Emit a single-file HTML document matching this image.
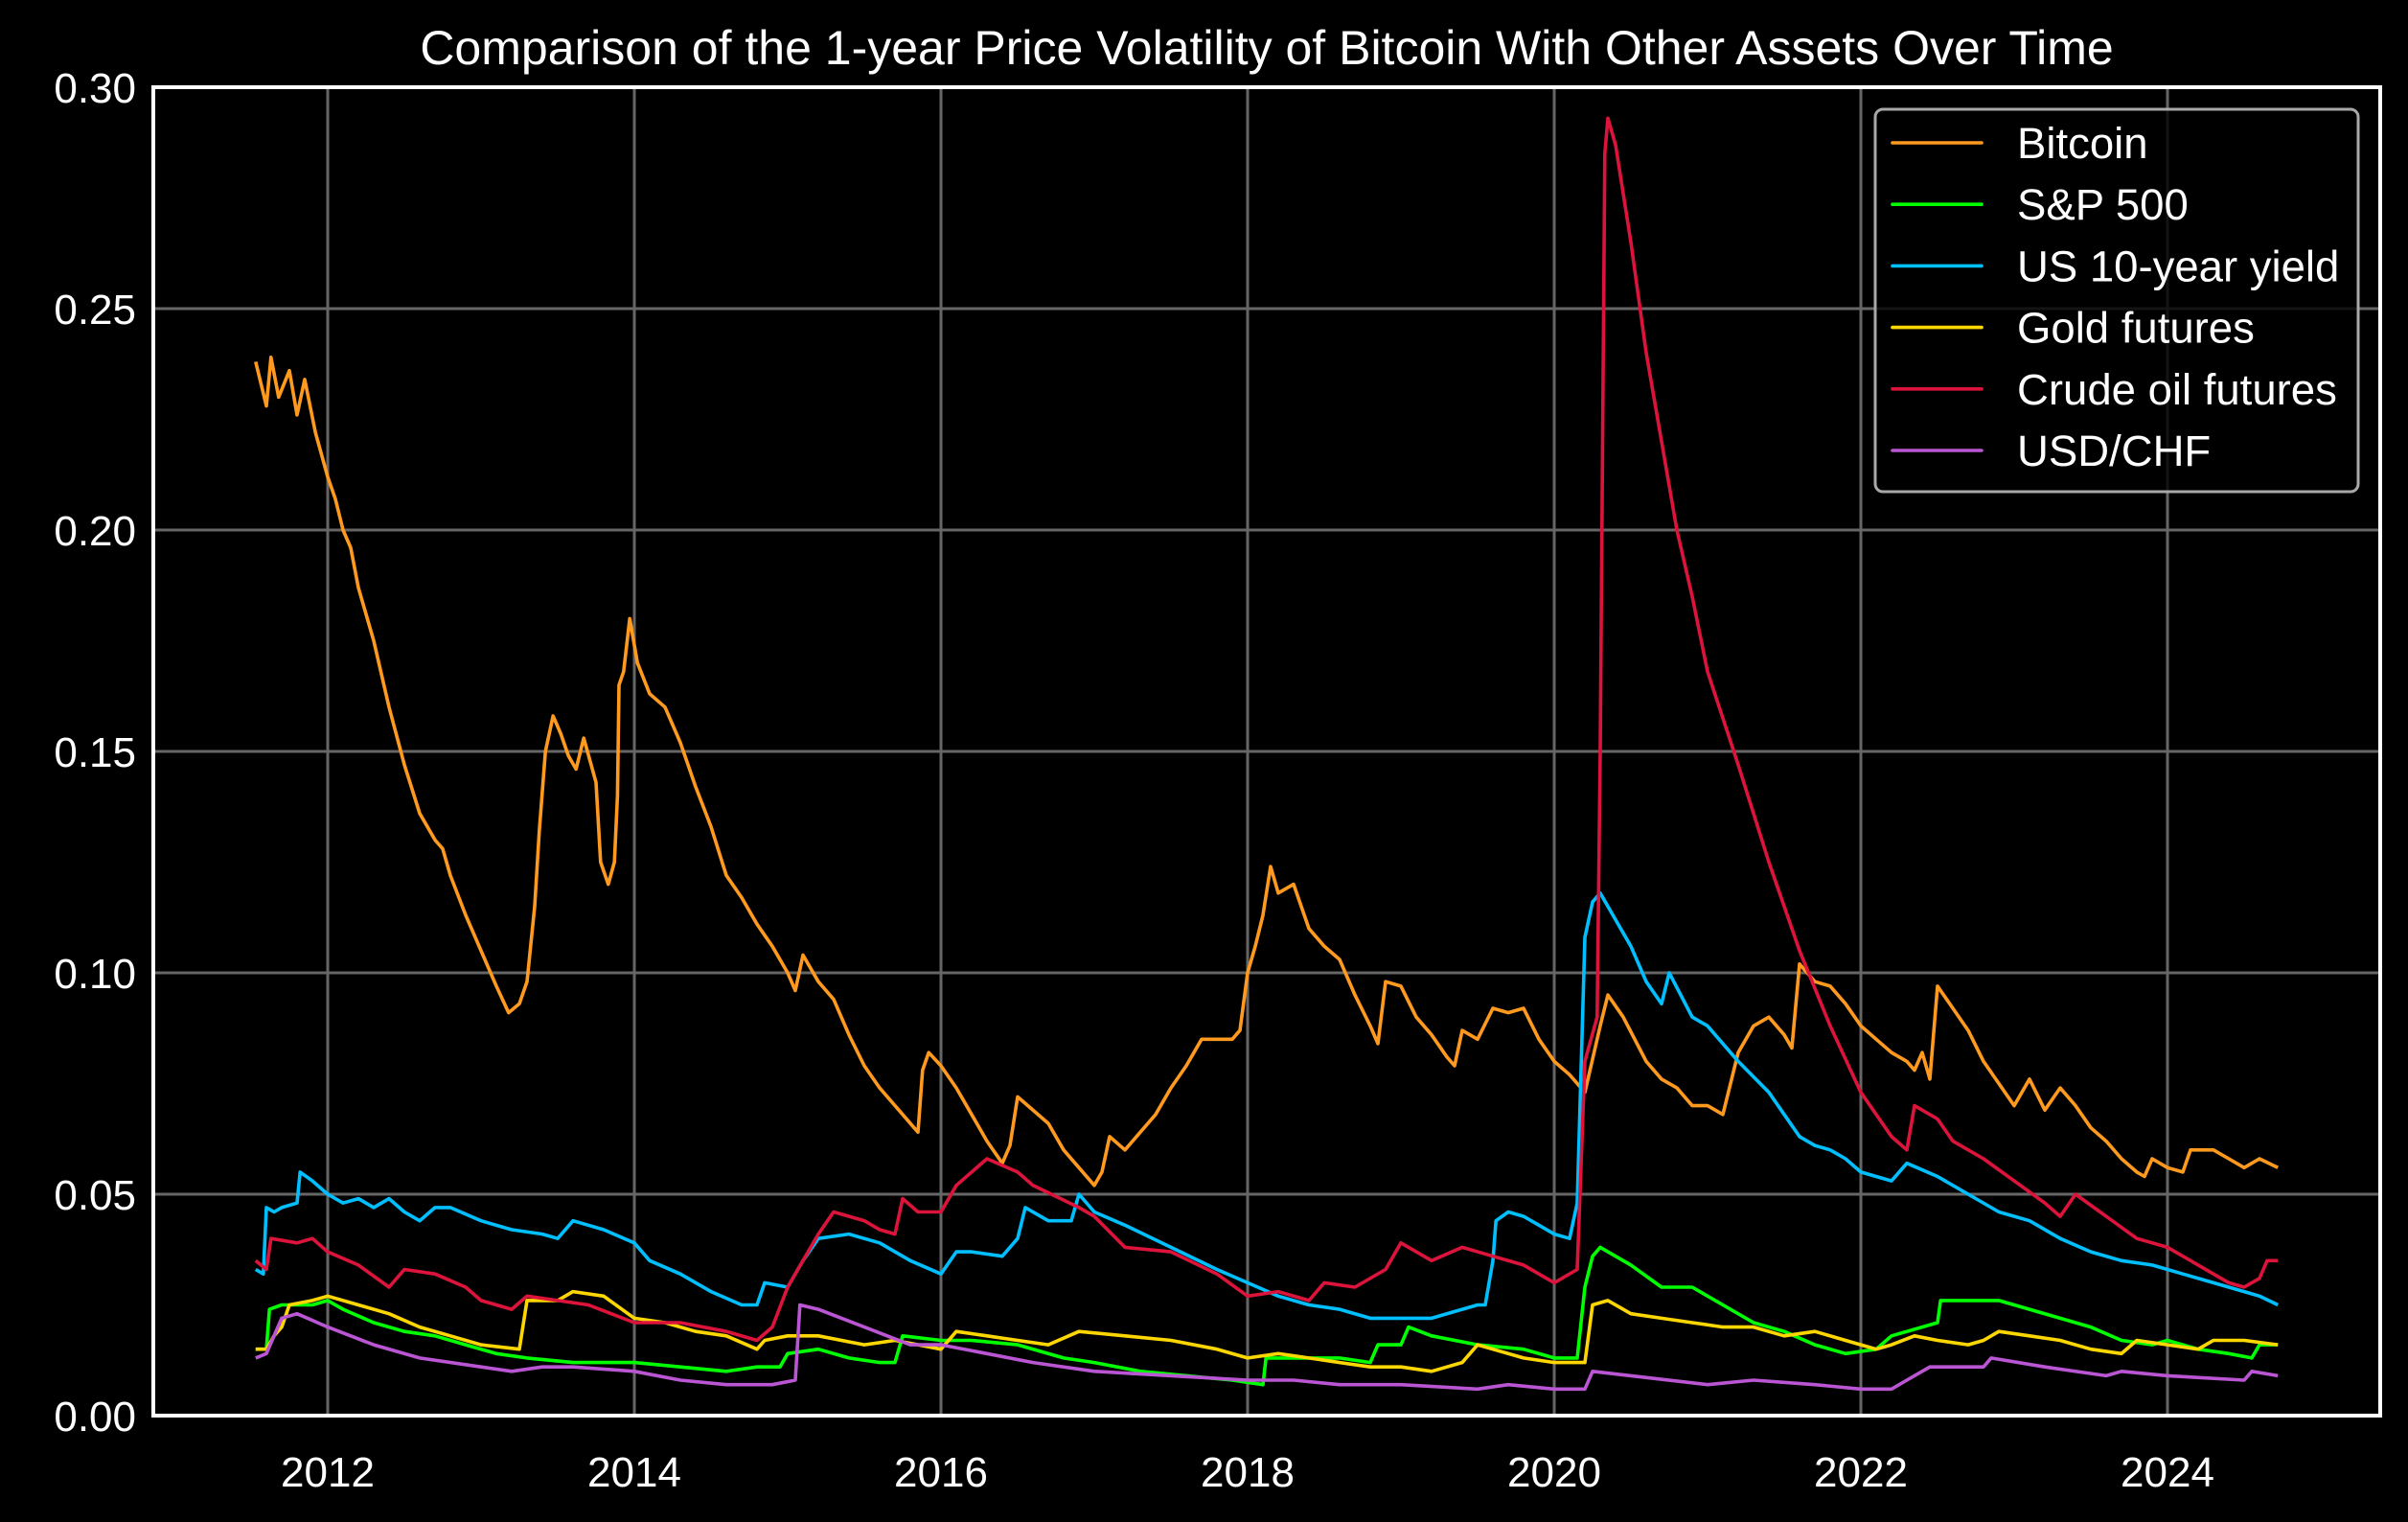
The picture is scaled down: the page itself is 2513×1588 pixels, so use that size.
<!DOCTYPE html>
<html><head><meta charset="utf-8"><style>
html,body{margin:0;padding:0;background:#000;}
svg{display:block;font-family:"Liberation Sans",Arial,sans-serif;}
</style></head><body>
<svg id="chart" width="2513" height="1588" viewBox="0 0 2513 1588" xmlns="http://www.w3.org/2000/svg">
<rect x="0" y="0" width="2513" height="1588" fill="#000"/>
<text x="1322" y="67" fill="#fff" font-size="50" text-anchor="middle">Comparison of the 1-year Price Volatility of Bitcoin With Other Assets Over Time</text>
<g id="grid"></g>
<g id="series"></g>
<rect x="160" y="91" width="2324" height="1386" fill="none" stroke="#fff" stroke-width="4"/>
<g id="ticks"></g>
<g id="legend"></g>
</svg>
<script>
const xTickYears = [2012, 2014, 2016, 2018, 2020, 2022, 2024];
const yTickValues = [0, 0.05, 0.10, 0.15, 0.20, 0.25, 0.30];
const yTickLabels = ["0.00", "0.05", "0.10", "0.15", "0.20", "0.25", "0.30"];
const seriesNames = ["Bitcoin", "S&P 500", "US 10-year yield", "Gold futures", "Crude oil futures", "USD/CHF"];
const seriesColors = ["#ff9a1f", "#00ff00", "#00bfff", "#ffd700", "#dc143c", "#ba55d3"];

const btcYears = [2011.53,2011.6,2011.63,2011.68,2011.75,2011.8,2011.85,2011.92,2012.0,2012.05,2012.1,2012.15,2012.2,2012.3,2012.4,2012.5,2012.6,2012.7,2012.75,2012.8,2012.9,2013.0,2013.1,2013.18,2013.25,2013.3,2013.35,2013.38,2013.42,2013.47,2013.52,2013.57,2013.62,2013.67,2013.75,2013.78,2013.83,2013.87,2013.89,2013.9,2013.93,2013.97,2014.02,2014.1,2014.2,2014.3,2014.4,2014.5,2014.6,2014.7,2014.8,2014.9,2015.0,2015.05,2015.1,2015.2,2015.3,2015.4,2015.5,2015.6,2015.7,2015.8,2015.85,2015.88,2015.92,2016.0,2016.1,2016.2,2016.3,2016.4,2016.45,2016.5,2016.6,2016.7,2016.8,2016.9,2017.0,2017.05,2017.1,2017.2,2017.3,2017.4,2017.5,2017.6,2017.7,2017.8,2017.9,2017.95,2018.0,2018.05,2018.1,2018.15,2018.2,2018.3,2018.4,2018.5,2018.6,2018.7,2018.8,2018.85,2018.9,2019.0,2019.1,2019.2,2019.3,2019.35,2019.4,2019.5,2019.6,2019.7,2019.8,2019.9,2020.0,2020.1,2020.2,2020.3,2020.35,2020.45,2020.6,2020.7,2020.8,2020.9,2021.0,2021.1,2021.2,2021.3,2021.4,2021.5,2021.55,2021.6,2021.7,2021.8,2021.9,2022.0,2022.1,2022.2,2022.3,2022.35,2022.4,2022.45,2022.5,2022.6,2022.7,2022.8,2022.9,2023.0,2023.1,2023.2,2023.3,2023.4,2023.5,2023.6,2023.7,2023.8,2023.85,2023.9,2024.0,2024.1,2024.15,2024.3,2024.4,2024.5,2024.6,2024.72];
const btcValues = [0.238,0.228,0.239,0.230,0.236,0.226,0.234,0.222,0.212,0.207,0.200,0.196,0.187,0.175,0.160,0.147,0.136,0.130,0.128,0.122,0.113,0.105,0.097,0.091,0.093,0.098,0.115,0.132,0.150,0.158,0.154,0.149,0.146,0.153,0.143,0.125,0.120,0.125,0.140,0.165,0.168,0.180,0.170,0.163,0.160,0.152,0.142,0.133,0.122,0.117,0.111,0.106,0.100,0.096,0.104,0.098,0.094,0.086,0.079,0.074,0.070,0.066,0.064,0.078,0.082,0.079,0.074,0.068,0.062,0.057,0.061,0.072,0.069,0.066,0.060,0.056,0.052,0.055,0.063,0.060,0.064,0.068,0.074,0.079,0.085,0.085,0.085,0.087,0.100,0.106,0.113,0.124,0.118,0.120,0.110,0.106,0.103,0.095,0.088,0.084,0.098,0.097,0.090,0.086,0.081,0.079,0.087,0.085,0.092,0.091,0.092,0.085,0.080,0.077,0.073,0.088,0.095,0.090,0.080,0.076,0.074,0.070,0.070,0.068,0.082,0.088,0.090,0.086,0.083,0.102,0.098,0.097,0.093,0.088,0.085,0.082,0.080,0.078,0.082,0.076,0.097,0.092,0.087,0.080,0.075,0.070,0.076,0.069,0.074,0.070,0.065,0.062,0.058,0.055,0.054,0.058,0.056,0.055,0.060,0.060,0.058,0.056,0.058,0.056];

const spxYears = [2011.53,2011.6,2011.62,2011.7,2011.8,2011.9,2012.0,2012.1,2012.3,2012.5,2012.7,2012.9,2013.1,2013.3,2013.6,2014.0,2014.3,2014.6,2014.8,2014.95,2015.0,2015.2,2015.4,2015.6,2015.7,2015.75,2016.0,2016.2,2016.5,2016.8,2017.0,2017.3,2017.6,2017.9,2018.1,2018.12,2018.3,2018.6,2018.8,2018.85,2019.0,2019.05,2019.2,2019.5,2019.8,2020.0,2020.15,2020.2,2020.25,2020.3,2020.5,2020.7,2020.9,2021.1,2021.3,2021.5,2021.7,2021.9,2022.1,2022.2,2022.4,2022.5,2022.52,2022.7,2022.9,2023.1,2023.3,2023.5,2023.7,2023.9,2024.0,2024.2,2024.4,2024.55,2024.6,2024.72];
const spxValues = [0.015,0.015,0.024,0.025,0.025,0.025,0.026,0.024,0.021,0.019,0.018,0.016,0.014,0.013,0.012,0.012,0.011,0.010,0.011,0.011,0.014,0.015,0.013,0.012,0.012,0.018,0.017,0.017,0.016,0.013,0.012,0.010,0.009,0.008,0.007,0.013,0.013,0.013,0.012,0.016,0.016,0.020,0.018,0.016,0.015,0.013,0.013,0.029,0.036,0.038,0.034,0.029,0.029,0.025,0.021,0.019,0.016,0.014,0.015,0.018,0.020,0.021,0.026,0.026,0.026,0.024,0.022,0.020,0.017,0.016,0.017,0.015,0.014,0.013,0.016,0.016];

const us10Years = [2011.53,2011.58,2011.6,2011.65,2011.7,2011.8,2011.82,2011.9,2012.0,2012.1,2012.2,2012.3,2012.4,2012.5,2012.6,2012.7,2012.8,2013.0,2013.2,2013.4,2013.5,2013.6,2013.8,2014.0,2014.1,2014.3,2014.5,2014.7,2014.8,2014.85,2015.0,2015.1,2015.2,2015.4,2015.6,2015.8,2016.0,2016.1,2016.2,2016.4,2016.5,2016.55,2016.7,2016.85,2016.9,2017.0,2017.2,2017.5,2017.8,2018.0,2018.2,2018.4,2018.6,2018.8,2019.0,2019.2,2019.4,2019.5,2019.55,2019.6,2019.62,2019.7,2019.8,2019.9,2020.0,2020.1,2020.15,2020.2,2020.25,2020.3,2020.4,2020.5,2020.6,2020.7,2020.75,2020.9,2021.0,2021.2,2021.4,2021.5,2021.6,2021.7,2021.8,2021.9,2022.0,2022.2,2022.3,2022.5,2022.7,2022.9,2023.1,2023.3,2023.5,2023.7,2023.9,2024.1,2024.3,2024.5,2024.6,2024.72];
const us10Values = [0.033,0.032,0.047,0.046,0.047,0.048,0.055,0.053,0.050,0.048,0.049,0.047,0.049,0.046,0.044,0.047,0.047,0.044,0.042,0.041,0.040,0.044,0.042,0.039,0.035,0.032,0.028,0.025,0.025,0.030,0.029,0.035,0.040,0.041,0.039,0.035,0.032,0.037,0.037,0.036,0.040,0.047,0.044,0.044,0.050,0.046,0.043,0.038,0.033,0.030,0.027,0.025,0.024,0.022,0.022,0.022,0.024,0.025,0.025,0.035,0.044,0.046,0.045,0.043,0.041,0.040,0.048,0.108,0.116,0.118,0.112,0.106,0.098,0.093,0.100,0.090,0.088,0.080,0.073,0.068,0.063,0.061,0.060,0.058,0.055,0.053,0.057,0.054,0.050,0.046,0.044,0.040,0.037,0.035,0.034,0.032,0.030,0.028,0.027,0.025];

const goldYears = [2011.53,2011.6,2011.65,2011.7,2011.75,2011.9,2012.0,2012.2,2012.4,2012.6,2012.8,2013.0,2013.25,2013.3,2013.5,2013.6,2013.8,2014.0,2014.2,2014.4,2014.6,2014.8,2014.85,2015.0,2015.2,2015.5,2015.7,2016.0,2016.1,2016.3,2016.5,2016.7,2016.9,2017.2,2017.5,2017.8,2018.0,2018.2,2018.4,2018.6,2018.8,2019.0,2019.2,2019.4,2019.5,2019.6,2019.8,2020.0,2020.2,2020.25,2020.35,2020.5,2020.7,2020.9,2021.1,2021.3,2021.5,2021.7,2021.9,2022.0,2022.1,2022.2,2022.35,2022.5,2022.7,2022.8,2022.9,2023.1,2023.3,2023.5,2023.7,2023.8,2024.0,2024.2,2024.3,2024.5,2024.72];
const goldValues = [0.015,0.015,0.018,0.020,0.025,0.026,0.027,0.025,0.023,0.020,0.018,0.016,0.015,0.026,0.026,0.028,0.027,0.022,0.021,0.019,0.018,0.015,0.017,0.018,0.018,0.016,0.017,0.015,0.019,0.018,0.017,0.016,0.019,0.018,0.017,0.015,0.013,0.014,0.013,0.012,0.011,0.011,0.010,0.012,0.016,0.015,0.013,0.012,0.012,0.025,0.026,0.023,0.022,0.021,0.020,0.020,0.018,0.019,0.017,0.016,0.015,0.016,0.018,0.017,0.016,0.017,0.019,0.018,0.017,0.015,0.014,0.017,0.016,0.015,0.017,0.017,0.016];

const oilYears = [2011.53,2011.6,2011.63,2011.8,2011.9,2012.0,2012.2,2012.4,2012.5,2012.7,2012.9,2013.0,2013.2,2013.3,2013.5,2013.7,2014.0,2014.3,2014.6,2014.8,2014.9,2015.0,2015.1,2015.2,2015.3,2015.5,2015.6,2015.7,2015.75,2015.85,2016.0,2016.1,2016.3,2016.5,2016.6,2016.9,2017.0,2017.2,2017.5,2017.8,2018.0,2018.2,2018.4,2018.5,2018.7,2018.9,2019.0,2019.2,2019.4,2019.6,2019.8,2020.0,2020.15,2020.2,2020.28,2020.3,2020.33,2020.35,2020.4,2020.5,2020.6,2020.7,2020.8,2020.9,2021.0,2021.2,2021.4,2021.6,2021.8,2022.0,2022.2,2022.3,2022.35,2022.5,2022.6,2022.8,2023.0,2023.2,2023.3,2023.4,2023.6,2023.8,2024.0,2024.2,2024.4,2024.5,2024.6,2024.65,2024.72];
const oilValues = [0.035,0.033,0.040,0.039,0.040,0.037,0.034,0.029,0.033,0.032,0.029,0.026,0.024,0.027,0.026,0.025,0.021,0.021,0.019,0.017,0.020,0.029,0.035,0.041,0.046,0.044,0.042,0.041,0.049,0.046,0.046,0.052,0.058,0.055,0.052,0.047,0.045,0.038,0.037,0.032,0.027,0.028,0.026,0.030,0.029,0.033,0.039,0.035,0.038,0.036,0.034,0.030,0.033,0.080,0.090,0.150,0.285,0.293,0.287,0.265,0.240,0.220,0.200,0.185,0.168,0.147,0.125,0.105,0.088,0.073,0.063,0.060,0.070,0.067,0.062,0.058,0.053,0.048,0.045,0.050,0.045,0.040,0.038,0.034,0.030,0.029,0.031,0.035,0.035];

const chfYears = [2011.53,2011.6,2011.7,2011.8,2012.0,2012.3,2012.6,2013.0,2013.2,2013.4,2013.6,2014.0,2014.3,2014.6,2014.9,2015.05,2015.08,2015.2,2015.5,2015.8,2016.0,2016.3,2016.6,2017.0,2017.5,2018.0,2018.3,2018.6,2019.0,2019.5,2019.7,2020.0,2020.2,2020.25,2020.5,2021.0,2021.3,2021.7,2022.0,2022.2,2022.3,2022.45,2022.8,2022.85,2023.2,2023.6,2023.7,2024.0,2024.5,2024.55,2024.72];
const chfValues = [0.013,0.014,0.022,0.023,0.020,0.016,0.013,0.011,0.010,0.011,0.011,0.010,0.008,0.007,0.007,0.008,0.025,0.024,0.020,0.016,0.016,0.014,0.012,0.010,0.009,0.008,0.008,0.007,0.007,0.006,0.007,0.006,0.006,0.010,0.009,0.007,0.008,0.007,0.006,0.006,0.008,0.011,0.011,0.013,0.011,0.009,0.010,0.009,0.008,0.010,0.009];

const allYears = [btcYears, spxYears, us10Years, goldYears, oilYears, chfYears];
const allValues = [btcValues, spxValues, us10Values, goldValues, oilValues, chfValues];
const seriesKeys = ["bitcoin", "sp500", "us10y", "gold", "crude-oil", "usdchf"];

const NS = "http://www.w3.org/2000/svg";
const L = 160, R = 2484, T = 91, B = 1477;
function xScale(yr) { return 342 + (yr - 2012) * 160; }
function yScale(v) { return B - (v / 0.30) * (B - T); }
function mk(tag, attrs, parent) {
  const e = document.createElementNS(NS, tag);
  for (const k in attrs) e.setAttribute(k, attrs[k]);
  parent.appendChild(e);
  return e;
}
const grid = document.getElementById("grid");
const ticks = document.getElementById("ticks");
xTickYears.forEach(yr => {
  const x = xScale(yr);
  const g = mk("line", {x1: x, x2: x, y1: T, y2: B, stroke: "#666", "stroke-width": 3}, grid);
  
  
  const t = mk("text", {x: x, y: 1551, fill: "#fff", "font-size": 44, "text-anchor": "middle"}, ticks);
  t.textContent = String(yr);
  
  
});
yTickValues.forEach((v, i) => {
  const y = yScale(v);
  const g = mk("line", {x1: L, x2: R, y1: y, y2: y, stroke: "#666", "stroke-width": 3}, grid);
  
  
  const t = mk("text", {x: 142, y: y + 16, fill: "#fff", "font-size": 44, "text-anchor": "end"}, ticks);
  t.textContent = yTickLabels[i];
  
  
});
const sg = document.getElementById("series");
allYears.forEach((ys, i) => {
  const vs = allValues[i];
  const pts = ys.map((yr, j) => xScale(yr).toFixed(1) + "," + yScale(vs[j]).toFixed(1)).join(" ");
  const p = mk("polyline", {points: pts, fill: "none", stroke: seriesColors[i], "stroke-width": 3.6, "stroke-linejoin": "round"}, sg);
  
  
});
const lg = document.getElementById("legend");
const box = mk("rect", {x: 1957, y: 114, width: 504, height: 399, rx: 8, fill: "#000", "fill-opacity": 0.8, stroke: "#a8a8a8", "stroke-width": 3}, lg);


seriesNames.forEach((n, i) => {
  const cy = 149 + i * 64.2;
  const ln = mk("line", {x1: 1975, x2: 2068, y1: cy, y2: cy, stroke: seriesColors[i], "stroke-width": 3.6, "stroke-linecap": "round"}, lg);
  
  
  const t = mk("text", {x: 2105, y: cy + 16, fill: "#fff", "font-size": 45.5}, lg);
  t.textContent = n;
  
  
});
</script>
</body></html>
